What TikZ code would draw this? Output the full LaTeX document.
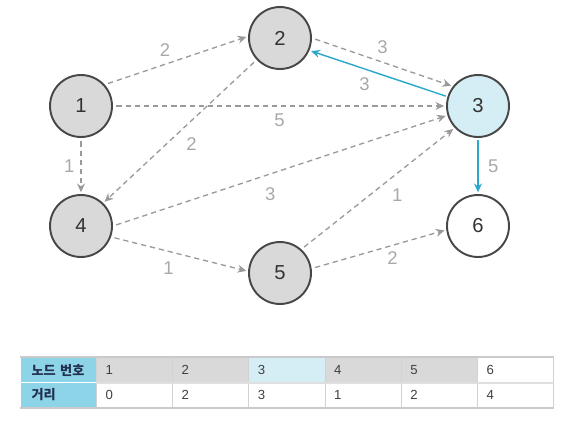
\documentclass[tikz,border=0pt]{standalone}
\usepackage{fontspec}
\setmainfont{Liberation Sans}
\newfontfamily\krfont{Noto Sans CJK KR}
\usetikzlibrary{arrows.meta}
\definecolor{nodegray}{HTML}{D9D9D9}
\definecolor{rimgray}{HTML}{474747}
\definecolor{edgegray}{HTML}{9A9A9A}
\definecolor{labelgray}{HTML}{A8A8A8}
\definecolor{visitfill}{HTML}{D5EEF6}
\definecolor{bestblue}{HTML}{2AA7CB}
\definecolor{headcyan}{HTML}{8ED4E9}
\definecolor{gridgray}{HTML}{D2D2D2}
\definecolor{headtext}{HTML}{22304F}

\begin{document}
\begin{tikzpicture}[x=0.02cm,y=-0.02cm,>={Stealth[length=5pt,width=4.5pt]},
  vertex/.style={circle,draw=rimgray,line width=1.1pt,fill=nodegray,minimum size=1.24cm,inner sep=0pt,font=\fontsize{11.5}{13}\selectfont,text=black!80},
  edge/.style={->,draw=edgegray,dash pattern=on 3pt off 2.2pt,line width=0.75pt,shorten <=2pt,shorten >=1pt},
  best/.style={->,draw=bestblue,line width=0.8pt,shorten <=1pt,shorten >=1pt},
  wlabel/.style={text=labelgray,font=\fontsize{10.5}{12}\selectfont},
  cell/.style={anchor=north west,minimum width=1.524cm,minimum height=0.5cm,inner xsep=0.18cm,text width=1.164cm,align=left,draw=gridgray,line width=0.6pt,font=\fontsize{7.5}{9}\selectfont,text=black!75},
  headcell/.style={cell,fill=headcyan,draw=white,inner xsep=0.22cm,font=\krfont\bfseries\fontsize{7.5}{9}\selectfont,text=headtext}]
\useasboundingbox (0,0) rectangle (566,427);

% graph
\node[vertex] (n1) at (81,106) {1};
\node[vertex] (n2) at (280,38) {2};
\node[vertex,fill=visitfill] (n3) at (478,106) {3};
\node[vertex] (n4) at (81,226) {4};
\node[vertex] (n5) at (280,273) {5};
\node[vertex,fill=white] (n6) at (478,226) {6};

\draw[edge] (n1.42) -- node[wlabel,pos=0.42,above=1pt] {2} (n2.177);
\draw[edge] (n2.0) -- node[wlabel,pos=0.5,above=1pt] {3} (n3.142);
\draw[best] (n3.163) -- node[wlabel,pos=0.6,below=1pt] {3} (n2.-23);
\draw[edge] (n1.0) -- node[wlabel,below=1pt] {5} (n3.180);
\draw[edge] (n2.223) -- node[wlabel,pos=0.5,below right] {2} (n4.46);
\draw[edge] (n1.270) -- node[wlabel,left] {1} (n4.90);
\draw[edge] (n4.0) -- node[wlabel,pos=0.47,below=4pt] {3} (n3.197);
\draw[edge] (n5.48) -- node[wlabel,pos=0.55,below right] {1} (n3.223);
\draw[edge] (n4.-20) -- node[wlabel,pos=0.42,below=2pt] {1} (n5.177);
\draw[edge] (n5.8) -- node[wlabel,pos=0.6,below] {2} (n6.187);
\draw[best] (n3.270) -- node[wlabel,right=2pt] {5} (n6.90);

% table
\node[headcell] (hnum) at (20,357) {노드 번호};
\node[headcell] (hdist) at (20,382) {거리};
\foreach \v/\d/\c [count=\i from 0] in {1/0/nodegray,2/2/nodegray,3/3/visitfill,4/1/nodegray,5/2/nodegray,6/4/white} {
  \node[cell,fill=\c] (num\v) at ({96+76.2*\i},357) {\v};
  \node[cell,fill=white] (dist\v) at ({96+76.2*\i},382) {\d};
}
\draw[gridgray!90!black!80,line width=0.8pt] (hnum.north west) -- (num6.north east);
\draw[gridgray!70,line width=1.2pt] (num1.south west) -- (num6.south east);
\draw[gridgray!90!black!80,line width=0.8pt] (hdist.south west) -- (dist6.south east);
\end{tikzpicture}
\end{document}
